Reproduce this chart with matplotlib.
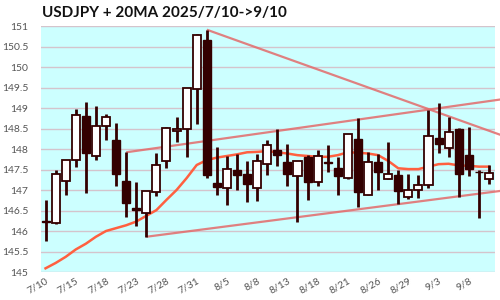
import matplotlib
matplotlib.use("Agg")
import matplotlib.pyplot as plt
from matplotlib.patches import Rectangle

plt.rcParams['font.family'] = ['Lato', 'DejaVu Sans']

# ---- data ----
opens  = [146.25,146.20,147.22,147.74,148.81,147.83,148.55,148.21,147.21,146.55,
          146.45,146.95,147.70,148.43,148.48,149.47,150.67,147.18,147.06,147.49,
          147.38,147.06,147.64,147.98,147.69,147.35,147.80,147.19,147.67,147.53,
          147.30,148.25,146.89,147.69,147.28,147.36,146.84,147.01,147.13,148.26,
          148.03,148.48,147.86,147.45,147.27]
highs  = [146.75,147.49,147.74,148.98,149.15,149.05,148.85,148.64,147.92,147.19,
          146.98,147.91,148.53,148.77,149.49,150.81,150.91,148.06,147.82,147.87,
          147.70,147.87,148.23,148.50,148.13,147.71,147.85,147.97,148.09,147.80,
          148.37,148.75,147.92,147.88,148.16,147.48,147.39,147.36,148.94,149.11,
          148.77,148.51,148.54,147.49,147.62]
lows   = [145.76,146.16,146.89,147.56,146.93,147.74,148.21,147.10,146.33,146.12,
          145.86,146.85,147.54,148.17,147.80,148.61,147.30,146.88,146.63,146.99,
          146.71,146.73,147.37,147.58,147.10,146.23,146.76,147.10,147.45,146.88,
          147.27,146.59,146.89,147.00,147.28,146.67,146.79,146.80,147.05,147.90,
          147.80,146.83,147.34,146.32,147.14]
closes = [146.22,147.40,147.74,148.83,147.90,148.56,148.77,147.40,146.68,146.52,
          146.98,147.62,148.51,148.48,149.49,150.79,147.37,147.07,147.52,147.36,
          147.15,147.71,148.10,147.85,147.39,147.71,147.20,147.84,147.66,147.35,
          148.36,146.96,147.69,147.44,147.40,146.98,147.01,147.13,148.32,148.13,
          148.42,147.39,147.51,147.43,147.42]
ma20   = [145.09,145.22,145.37,145.55,145.69,145.86,146.00,146.07,146.14,146.23,
          146.37,146.51,146.76,147.00,147.29,147.61,147.73,147.79,147.83,147.87,
          147.92,147.93,147.95,147.92,147.89,147.85,147.83,147.81,147.81,147.85,
          147.92,147.91,147.89,147.85,147.71,147.53,147.51,147.51,147.57,147.63,
          147.64,147.60,147.59,147.57,147.57]
tick_idx    = [0, 3, 6, 9, 12, 15, 18, 21, 24, 27, 30, 33, 36, 39, 42]
tick_labels = ['7/10','7/15','7/18','7/23','7/28','7/31','8/5','8/8','8/13',
               '8/18','8/21','8/26','8/29','9/3','9/8']
# trend lines: (start index, start price, end index, end price)
trend_x0 = [16, 8, 10]
trend_y0 = [150.91, 147.92, 145.86]
trend_x1 = [45.2, 45.2, 45.2]
trend_y1 = [148.34, 149.21, 146.98]
yticks = [145, 145.5, 146, 146.5, 147, 147.5, 148, 148.5, 149, 149.5, 150, 150.5, 151]

# ---- figure ----
fig = plt.figure(figsize=(5, 3), dpi=100)
ax = fig.add_axes([0.082, 0.0933, 0.908, 0.82])
ax.set_facecolor('#ccffff')
ax.set_xlim(-0.45, 44.6)
ax.set_ylim(145, 151)

ax.set_yticks(yticks)
ax.set_yticklabels([f'{v:g}' for v in yticks])
ax.yaxis.grid(True, color='#d4c4cc', linewidth=1.0)
ax.set_axisbelow(True)
for s in ax.spines.values():
    s.set_visible(False)
ax.tick_params(axis='y', length=0, pad=9, labelsize=7.5, labelcolor='#555555')
ax.tick_params(axis='x', length=0, pad=3, labelsize=7.5, labelcolor='#555555')
ax.set_xticks(tick_idx)
ax.set_xticklabels(tick_labels, rotation=30, ha='right', rotation_mode='anchor')

# MA line
ax.plot(range(len(ma20)), ma20, color='#ff6040', linewidth=1.8, zorder=2)

# trend lines
for x0, y0, x1, y1 in zip(trend_x0, trend_y0, trend_x1, trend_y1):
    ax.plot([x0, x1], [y0, y1], color='#e36a6a', linewidth=1.6, alpha=0.85,
            clip_on=False, zorder=3, solid_capstyle='butt')

# candles
dark = '#330000'
w = 0.8
for i, (o, h, l, c) in enumerate(zip(opens, highs, lows, closes)):
    ax.plot([i, i], [l, h], color=dark, linewidth=2.0, zorder=4,
            solid_capstyle='butt')
    lo, hi = min(o, c), max(o, c)
    hgt = max(hi - lo, 0.02)
    if c >= o:
        rect = Rectangle((i - w / 2, lo), w, hgt, facecolor='white',
                         edgecolor=dark, linewidth=1.3, zorder=5)
    else:
        rect = Rectangle((i - w / 2, lo), w, hgt, facecolor=dark,
                         edgecolor=dark, linewidth=1.0, zorder=5)
    ax.add_patch(rect)

fig.text(0.084, 0.958, 'USDJPY + 20MA 2025/7/10->9/10', fontsize=11,
         fontweight='bold', ha='left', va='center', color='#111111')

fig.savefig('out.png', dpi=100)
